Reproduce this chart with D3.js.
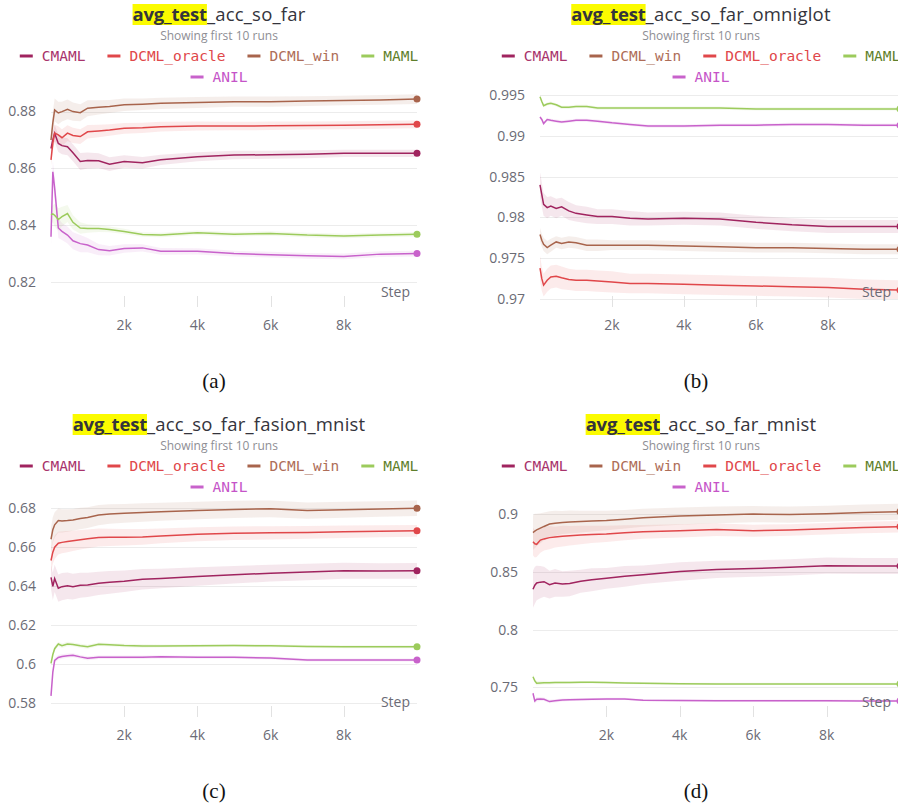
<!DOCTYPE html>
<html lang="en">
<head>
<meta charset="utf-8"/>
<style>
body { margin: 0; background: #fff; }
svg { display: block; font-family: "Open Sans", sans-serif; }
.grid line { stroke: #ececec; }
.tick-x { stroke: #e2e2e2; }
</style>
</head>
<body>
<svg width="898" height="804"></svg>
<script src="https://d3js.org/d3.v7.min.js"></script>
<script>

// steps shared by every run
var steps = [0, 50, 100, 200, 300, 450, 600, 800, 1000, 1300, 1600, 2000, 2500, 3000, 4000, 5000, 6000, 7000, 8000, 9000, 10000];

var xTicks = [2000, 4000, 6000, 8000];

// (a) avg_test_acc_so_far
var aCMAML  = [0.8670,0.8700,0.8724,0.8688,0.8680,0.8676,0.8655,0.8624,0.8628,0.8627,0.8615,0.8624,0.8620,0.8630,0.8641,0.8647,0.8648,0.8650,0.8653,0.8653,0.8653];
var aOracle = [0.8630,0.8690,0.8724,0.8718,0.8708,0.8724,0.8716,0.8712,0.8729,0.8732,0.8735,0.8741,0.8743,0.8747,0.8749,0.8749,0.8750,0.8751,0.8752,0.8754,0.8755];
var aWin    = [0.8700,0.8760,0.8806,0.8795,0.8800,0.8808,0.8800,0.8796,0.8812,0.8815,0.8818,0.8824,0.8826,0.8829,0.8832,0.8835,0.8835,0.8837,0.8839,0.8841,0.8844];
var aMAML   = [0.8436,0.8440,0.8435,0.8420,0.8430,0.8441,0.8410,0.8390,0.8388,0.8388,0.8385,0.8378,0.8367,0.8365,0.8373,0.8368,0.8371,0.8365,0.8362,0.8365,0.8368];
var aANIL   = [0.8359,0.8588,0.8530,0.8390,0.8378,0.8365,0.8345,0.8335,0.8330,0.8314,0.8310,0.8318,0.8320,0.8308,0.8308,0.8300,0.8296,0.8292,0.8290,0.8298,0.8300];
var aCMAMLsd  = [.002,.003,.003,.003,.003,.003,.003,.003,.0028,.0026,.0024,.0022,.002,.0018,.0016,.0015,.0014,.0014,.0013,.0013,.0013];
var aOraclesd = [.002,.003,.003,.003,.003,.0028,.0027,.0026,.0024,.0022,.002,.0019,.0018,.0017,.0016,.0015,.0015,.0014,.0014,.0014,.0014];
var aWinsd    = [.002,.004,.004,.004,.0035,.0035,.0032,.003,.0028,.0025,.0023,.0022,.002,.002,.0019,.0018,.0018,.0017,.0017,.0017,.0017];
var aMAMLsd   = [.003,.003,.004,.004,.0035,.003,.0025,.002,.0015,.0012,.001,.0009,.0008,.0008,.0008,.0008,.0008,.0008,.0008,.0008,.0008];
var aANILsd   = [.003,.004,.004,.0035,.003,.003,.003,.003,.0025,.002,.0017,.0015,.0013,.0012,.0011,.001,.001,.001,.001,.001,.001];

// (b) avg_test_acc_so_far_omniglot
var bCMAML  = [0.9840,0.9828,0.9816,0.9812,0.9814,0.9811,0.9813,0.9808,0.9805,0.9803,0.9801,0.9801,0.9799,0.9798,0.9799,0.9798,0.9794,0.9791,0.9789,0.9789,0.9789];
var bOracle = [0.9738,0.9725,0.9717,0.9723,0.9727,0.9728,0.9726,0.9724,0.9723,0.9723,0.9722,0.9721,0.9719,0.9719,0.9718,0.9717,0.9716,0.9715,0.9714,0.9712,0.9711];
var bWin    = [0.9779,0.9772,0.9767,0.9763,0.9766,0.9770,0.9768,0.9770,0.9769,0.9766,0.9766,0.9766,0.9766,0.9766,0.9765,0.9764,0.9763,0.9763,0.9762,0.9761,0.9761];
var bMAML   = [0.9948,0.9942,0.9937,0.9939,0.9940,0.9938,0.9935,0.9935,0.9936,0.9936,0.9934,0.9934,0.9934,0.9934,0.9934,0.9934,0.9933,0.9933,0.9933,0.9933,0.9933];
var bANIL   = [0.9923,0.9920,0.9915,0.9920,0.9919,0.9918,0.9917,0.9918,0.9919,0.9919,0.9918,0.9916,0.9914,0.9912,0.9912,0.9913,0.9913,0.9914,0.9914,0.9913,0.9913];
var bCMAMLsd  = [.0015,.0015,.0014,.0013,.0012,.0012,.0011,.0011,.001,.001,.0009,.0009,.0009,.0008,.0008,.0008,.0008,.0008,.0008,.0008,.0008];
var bOraclesd = [.0015,.0015,.0014,.0014,.0014,.0014,.0014,.0013,.0013,.0013,.0013,.0013,.0012,.0012,.0012,.0012,.0012,.0012,.0012,.0012,.0012];
var bWinsd    = [.0008,.0008,.0008,.0008,.0008,.0007,.0007,.0007,.0007,.0007,.0007,.0006,.0006,.0006,.0006,.0006,.0006,.0006,.0006,.0006,.0006];
var bMAMLsd   = [.0002,.0002,.0002,.0002,.0002,.0002,.0002,.0002,.0002,.0002,.0002,.0002,.0002,.0002,.0002,.0002,.0002,.0002,.0002,.0002,.0002];
var bANILsd   = [.0002,.0002,.0002,.0002,.0002,.0002,.0002,.0002,.0002,.0002,.0002,.0002,.0002,.0002,.0002,.0002,.0002,.0002,.0002,.0002,.0002];

// (c) avg_test_acc_so_far_fasion_mnist
var cCMAML  = [0.6446,0.6400,0.6440,0.6390,0.6398,0.6403,0.6398,0.6405,0.6407,0.6415,0.6420,0.6426,0.6436,0.6440,0.6450,0.6459,0.6467,0.6473,0.6479,0.6478,0.6479];
var cOracle = [0.6532,0.6575,0.6600,0.6621,0.6625,0.6629,0.6633,0.6639,0.6643,0.6650,0.6651,0.6651,0.6653,0.6658,0.6667,0.6672,0.6674,0.6676,0.6680,0.6682,0.6684];
var cWin    = [0.6641,0.6690,0.6715,0.6737,0.6735,0.6737,0.6740,0.6747,0.6752,0.6765,0.6770,0.6774,0.6778,0.6782,0.6788,0.6794,0.6797,0.6788,0.6792,0.6796,0.6800];
var cMAML   = [0.6005,0.6050,0.6080,0.6104,0.6095,0.6104,0.6102,0.6095,0.6090,0.6103,0.6100,0.6096,0.6094,0.6094,0.6095,0.6096,0.6095,0.6091,0.6090,0.6090,0.6090];
var cANIL   = [0.5838,0.5960,0.6020,0.6035,0.6040,0.6044,0.6046,0.6038,0.6031,0.6036,0.6036,0.6036,0.6036,0.6038,0.6036,0.6036,0.6032,0.6022,0.6022,0.6022,0.6022];
var cCMAMLsd  = [.006,.007,.007,.007,.007,.0068,.0066,.0064,.0062,.006,.0058,.0055,.0052,.005,.0047,.0045,.0043,.0042,.0041,.004,.004];
var cOraclesd = [.006,.006,.006,.0058,.0056,.0054,.0052,.005,.0048,.0046,.0044,.0042,.004,.0038,.0036,.0035,.0034,.0033,.0032,.0031,.003];
var cWinsd    = [.006,.0065,.0065,.0062,.006,.0058,.0056,.0055,.0053,.0052,.005,.0048,.0047,.0046,.0045,.0044,.0043,.0042,.0041,.004,.004];
var cMAMLsd   = [.0012,.0012,.0012,.0012,.0011,.0011,.001,.001,.001,.0009,.0009,.0009,.0009,.0008,.0008,.0008,.0008,.0008,.0008,.0008,.0008];
var cANILsd   = [.0012,.0012,.0012,.0012,.0011,.0011,.001,.001,.001,.0009,.0009,.0009,.0009,.0008,.0008,.0008,.0008,.0008,.0008,.0008,.0008];

// (d) avg_test_acc_so_far_mnist
var dCMAML  = [0.8350,0.8385,0.8405,0.8412,0.8416,0.8390,0.8405,0.8396,0.8400,0.8420,0.8432,0.8445,0.8462,0.8476,0.8504,0.8522,0.8530,0.8540,0.8555,0.8552,0.8552];
var dOracle = [0.8763,0.8745,0.8740,0.8777,0.8787,0.8798,0.8803,0.8810,0.8814,0.8820,0.8826,0.8830,0.8840,0.8848,0.8857,0.8868,0.8858,0.8865,0.8875,0.8885,0.8893];
var dWin    = [0.8841,0.8855,0.8865,0.8880,0.8895,0.8916,0.8922,0.8929,0.8933,0.8937,0.8942,0.8947,0.8958,0.8970,0.8985,0.8995,0.9002,0.8998,0.9005,0.9015,0.9023];
var dMAML   = [0.7592,0.7555,0.7535,0.7538,0.7540,0.7540,0.7541,0.7542,0.7542,0.7543,0.7543,0.7542,0.7538,0.7535,0.7530,0.7529,0.7529,0.7529,0.7529,0.7529,0.7529];
var dANIL   = [0.7448,0.7380,0.7396,0.7398,0.7396,0.7376,0.7383,0.7390,0.7392,0.7395,0.7397,0.7398,0.7399,0.7388,0.7385,0.7384,0.7384,0.7383,0.7383,0.7382,0.7382];
var dCMAMLsd  = [.016,.016,.015,.014,.013,.012,.012,.011,.011,.010,.010,.009,.009,.008,.008,.0075,.0072,.007,.007,.007,.007];
var dOraclesd = [.012,.012,.011,.011,.010,.010,.009,.009,.0085,.008,.0075,.007,.0065,.006,.0058,.0055,.0052,.005,.005,.005,.005];
var dWinsd    = [.015,.015,.014,.013,.012,.011,.011,.010,.010,.0095,.009,.0085,.008,.0078,.0075,.0072,.007,.007,.007,.007,.007];
var dMAMLsd   = [.002,.002,.002,.0018,.0016,.0015,.0014,.0013,.0012,.0012,.0011,.0011,.001,.001,.001,.001,.001,.001,.001,.001,.001];
var dANILsd   = [.002,.002,.002,.0018,.0016,.0015,.0014,.0013,.0012,.0012,.0011,.0011,.001,.001,.001,.001,.001,.001,.001,.001,.001];

var lineColor = { CMAML: "#a0245f", DCML_oracle: "#e0474a", DCML_win: "#a8644c", MAML: "#9ccb5c", ANIL: "#c862cb" };
var textColor = { CMAML: "#a8336b", DCML_oracle: "#e0474a", DCML_win: "#ae6d58", MAML: "#5f7f2c", ANIL: "#c554c8" };

var panels = [
  { tag: "(a)", rest: "_acc_so_far", cx: 219, top: 0, x0: 51, x1: 417,
    domain: [0.8147, 0.8869], ticks: [0.82, 0.84, 0.86, 0.88],
    order: ["CMAML", "DCML_oracle", "DCML_win", "MAML", "ANIL"],
    runs: { CMAML: [aCMAML, aCMAMLsd], DCML_oracle: [aOracle, aOraclesd], DCML_win: [aWin, aWinsd], MAML: [aMAML, aMAMLsd], ANIL: [aANIL, aANILsd] } },
  { tag: "(b)", rest: "_acc_so_far_omniglot", cx: 701, top: 0, x0: 540, x1: 900,
    domain: [0.97025, 0.99537], ticks: [0.97, 0.975, 0.98, 0.985, 0.99, 0.995],
    order: ["CMAML", "DCML_win", "DCML_oracle", "MAML", "ANIL"],
    runs: { CMAML: [bCMAML, bCMAMLsd], DCML_oracle: [bOracle, bOraclesd], DCML_win: [bWin, bWinsd], MAML: [bMAML, bMAMLsd], ANIL: [bANIL, bANILsd] } },
  { tag: "(c)", rest: "_acc_so_far_fasion_mnist", cx: 219, top: 410, x0: 51, x1: 417,
    domain: [0.5781, 0.6832], ticks: [0.58, 0.6, 0.62, 0.64, 0.66, 0.68],
    order: ["CMAML", "DCML_oracle", "DCML_win", "MAML", "ANIL"],
    runs: { CMAML: [cCMAML, cCMAMLsd], DCML_oracle: [cOracle, cOraclesd], DCML_win: [cWin, cWinsd], MAML: [cMAML, cMAMLsd], ANIL: [cANIL, cANILsd] } },
  { tag: "(d)", rest: "_acc_so_far_mnist", cx: 701, top: 410, x0: 533, x1: 900,
    domain: [0.7329, 0.9107], ticks: [0.75, 0.8, 0.85, 0.9],
    order: ["CMAML", "DCML_win", "DCML_oracle", "MAML", "ANIL"],
    runs: { CMAML: [dCMAML, dCMAMLsd], DCML_oracle: [dOracle, dOraclesd], DCML_win: [dWin, dWinsd], MAML: [dMAML, dMAMLsd], ANIL: [dANIL, dANILsd] } }
];

// draw order: back to front like the original
var drawOrder = ["ANIL", "MAML", "CMAML", "DCML_oracle", "DCML_win"];

var svg = d3.select("svg");
var fmt = d3.format(".3~f");

panels.forEach(function(p, pi) {
  var g = svg.append("g").attr("transform", "translate(0," + p.top + ")");
  var plotTop = 92, plotBottom = 297;

  var x = d3.scaleLinear().domain([0, 10000]).range([p.x0, p.x1]);
  var y = d3.scaleLinear().domain(p.domain).range([plotBottom, plotTop]);

  // title with highlighted search term
  var title = g.append("text")
    .attr("x", p.cx).attr("y", 21)
    .attr("text-anchor", "middle")
    .attr("font-size", 18.5)
    .attr("fill", "#34343c");
  var hl = title.append("tspan").attr("font-weight", 700).attr("letter-spacing", -0.2).text("avg_test");
  title.append("tspan").attr("font-weight", 500).attr("letter-spacing", 0.2).text(p.rest);
  var tb = title.node().getBBox();
  var hw = hl.node().getComputedTextLength();
  g.insert("rect", "text")
    .attr("x", tb.x).attr("y", 4)
    .attr("width", hw).attr("height", 21)
    .attr("fill", "#fbfb00");

  g.append("text")
    .attr("x", p.cx).attr("y", 40)
    .attr("text-anchor", "middle")
    .attr("font-size", 12)
    .attr("fill", "#8e8e94")
    .text("Showing first 10 runs");

  // legend, first four in one row, ANIL below
  var leg = g.append("g").attr("font-family", "'DejaVu Sans Mono', monospace").attr("font-size", 14.5);
  function legendRow(keys, rowY) {
    var row = leg.append("g");
    var cur = 0;
    keys.forEach(function(k, i) {
      var it = row.append("g").attr("transform", "translate(" + cur + ",0)");
      it.append("line").attr("x1", 0).attr("x2", 13).attr("y1", rowY - 5).attr("y2", rowY - 5)
        .attr("stroke", lineColor[k]).attr("stroke-width", 3);
      var t = it.append("text").attr("x", 22).attr("y", rowY).attr("fill", textColor[k]).text(k);
      cur += 22 + t.node().getComputedTextLength() + 22;
    });
    var w = cur - 22;
    row.attr("transform", "translate(" + (p.cx - w / 2) + ",0)");
  }
  legendRow(p.order.slice(0, 4), 61);
  legendRow(p.order.slice(4), 82);

  // grid + y labels
  var grid = g.append("g").attr("class", "grid");
  grid.selectAll("line").data(p.ticks).enter().append("line")
    .attr("x1", p.x0).attr("x2", p.x1)
    .attr("y1", function(d) { return Math.round(y(d)) + 0.5; })
    .attr("y2", function(d) { return Math.round(y(d)) + 0.5; });
  g.append("g").selectAll("text").data(p.ticks).enter().append("text")
    .attr("x", p.x0 - 15).attr("y", function(d) { return y(d); })
    .attr("dy", "0.35em")
    .attr("text-anchor", "end")
    .attr("font-size", 14)
    .attr("fill", "#6b6b75")
    .text(fmt);

  // x ticks
  g.append("g").selectAll("line").data(xTicks).enter().append("line")
    .attr("class", "tick-x")
    .attr("x1", function(d) { return Math.round(x(d)) + 0.5; })
    .attr("x2", function(d) { return Math.round(x(d)) + 0.5; })
    .attr("y1", plotBottom - 1).attr("y2", plotBottom + 10);
  g.append("g").selectAll("text").data(xTicks).enter().append("text")
    .attr("x", function(d) { return x(d); }).attr("y", plotBottom + 33)
    .attr("text-anchor", "middle")
    .attr("font-size", 14)
    .attr("fill", "#6b6b75")
    .text(function(d) { return (d / 1000) + "k"; });

  // plot clip
  var clipId = "clip" + pi;
  g.append("clipPath").attr("id", clipId).append("rect")
    .attr("x", p.x0 - 1).attr("y", plotTop - 6)
    .attr("width", p.x1 - p.x0 + 6).attr("height", plotBottom - plotTop + 8);
  var plot = g.append("g").attr("clip-path", "url(#" + clipId + ")");

  var area = d3.area()
    .x(function(d, i) { return x(steps[i]); })
    .y0(function(d) { return y(d[0] - d[1]); })
    .y1(function(d) { return y(d[0] + d[1]); });
  var line = d3.line()
    .x(function(d, i) { return x(steps[i]); })
    .y(function(d) { return y(d); });

  drawOrder.forEach(function(k) {
    var vals = p.runs[k][0], sd = p.runs[k][1];
    var pts = vals.map(function(v, i) { return [v, sd[i]]; });
    plot.append("path").attr("d", area(pts))
      .attr("fill", lineColor[k]).attr("fill-opacity", 0.11);
  });
  drawOrder.forEach(function(k) {
    var vals = p.runs[k][0];
    plot.append("path").attr("d", line(vals))
      .attr("fill", "none").attr("stroke", lineColor[k]).attr("stroke-width", 1.5);
    plot.append("circle")
      .attr("cx", x(steps[steps.length - 1])).attr("cy", y(vals[vals.length - 1]))
      .attr("r", 3.5).attr("fill", lineColor[k]);
  });

  g.append("text")
    .attr("x", Math.min(p.x1, 898) - 7).attr("y", plotBottom)
    .attr("text-anchor", "end")
    .attr("font-size", 14)
    .attr("fill", "#6b6b75")
    .text("Step");

  // caption
  g.append("text")
    .attr("x", p.cx - 5).attr("y", 388)
    .attr("text-anchor", "middle")
    .attr("font-family", "'Liberation Serif', 'Times New Roman', serif")
    .attr("font-size", 21)
    .attr("fill", "#111")
    .text(p.tag);
});

</script>
</body>
</html>
